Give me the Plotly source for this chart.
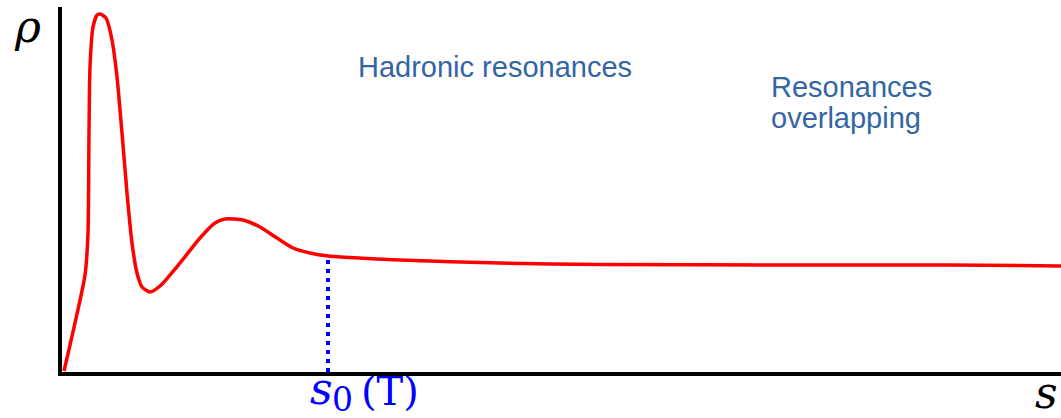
import plotly.graph_objects as go

# ---- data (s in arbitrary units, rho in arbitrary units) ----
s_values = [2, 23, 26, 27, 28, 31, 35, 38, 44, 50, 55, 60, 65, 70, 75, 80, 88,
            98, 118, 138, 153, 163, 181, 198, 215, 231, 248, 266, 288, 338,
            438, 538, 738, 888, 999]
rho_values = [1, 97, 139, 239, 305, 345, 357, 358, 354, 332, 295, 239, 179,
              129, 99, 85, 80, 86, 109, 134, 149, 153, 152, 145, 134, 124,
              119, 116, 114.5, 112, 109, 107.5, 107, 107, 106]
s0_index = 27  # s_0(T) threshold position in the lists above
s0 = s_values[s0_index]
rho_s0 = rho_values[s0_index]

label_hadronic = "Hadronic resonances"
label_overlap = ["Resonances", "overlapping"]

# ---- layout geometry ----
W, H = 1061, 418
L, R, T, B = 62, 0, 7, 46
PW, PH = W - L - R, H - T - B

def px(xp):
    return (xp - L) / PW

def py(yp):
    return (H - B - yp) / PH

fig = go.Figure()
fig.add_trace(go.Scatter(
    x=s_values, y=rho_values, mode="lines",
    line=dict(color="#ff0000", width=3.5, shape="spline", smoothing=0.6),
    hoverinfo="skip", showlegend=False))
fig.add_trace(go.Scatter(
    x=[s0, s0], y=[0, rho_s0], mode="lines",
    line=dict(color="#0000ff", width=4, dash="4px,5px"),
    hoverinfo="skip", showlegend=False))

blue_text = "#3465a4"
sans = "Liberation Sans, Arial"
serif = "DejaVu Serif, Liberation Serif"
ann = []
ann.append(dict(text=label_hadronic, xref="paper", yref="paper",
                x=px(356), y=py(67), xanchor="left", yanchor="middle",
                showarrow=False, font=dict(family=sans, size=29, color=blue_text)))
ann.append(dict(text=label_overlap[0], xref="paper", yref="paper",
                x=px(769), y=py(87), xanchor="left", yanchor="middle",
                showarrow=False, font=dict(family=sans, size=29, color=blue_text)))
ann.append(dict(text=label_overlap[1], xref="paper", yref="paper",
                x=px(769), y=py(118), xanchor="left", yanchor="middle",
                showarrow=False, font=dict(family=sans, size=29, color=blue_text)))
# axis symbols
ann.append(dict(text="ρ", xref="paper", yref="paper",
                x=px(27), y=py(26), xanchor="center", yanchor="middle",
                showarrow=False,
                font=dict(family=serif, size=44, color="black", style="italic")))
ann.append(dict(text="s", xref="paper", yref="paper",
                x=px(1046), y=py(392), xanchor="center", yanchor="middle",
                showarrow=False,
                font=dict(family=serif, size=44, color="black", style="italic")))
# s_0(T)
ann.append(dict(text="s", xref="x", yref="paper",
                x=s0, y=py(389), xanchor="center", yanchor="middle",
                xshift=-7, showarrow=False,
                font=dict(family=serif, size=44, color="#0000ff", style="italic")))
ann.append(dict(text="0", xref="x", yref="paper",
                x=s0, y=py(400), xanchor="center", yanchor="middle",
                xshift=14, showarrow=False,
                font=dict(family=serif, size=33, color="#0000ff")))
ann.append(dict(text="(T)", xref="x", yref="paper",
                x=s0, y=py(391), xanchor="center", yanchor="middle",
                xshift=62, showarrow=False,
                font=dict(family=serif, size=40, color="#0000ff")))

fig.update_layout(
    width=W, height=H,
    margin=dict(l=L, r=R, t=T, b=B, pad=0),
    paper_bgcolor="white", plot_bgcolor="white",
    xaxis=dict(range=[0, PW], showgrid=False, zeroline=False, showticklabels=False,
               ticks="", showline=True, linecolor="black", linewidth=4, fixedrange=True),
    yaxis=dict(range=[0, PH], showgrid=False, zeroline=False, showticklabels=False,
               ticks="", showline=True, linecolor="black", linewidth=3.5, fixedrange=True),
    annotations=ann,
    showlegend=False,
)
fig.write_html("out.html", config={"displayModeBar": False})
